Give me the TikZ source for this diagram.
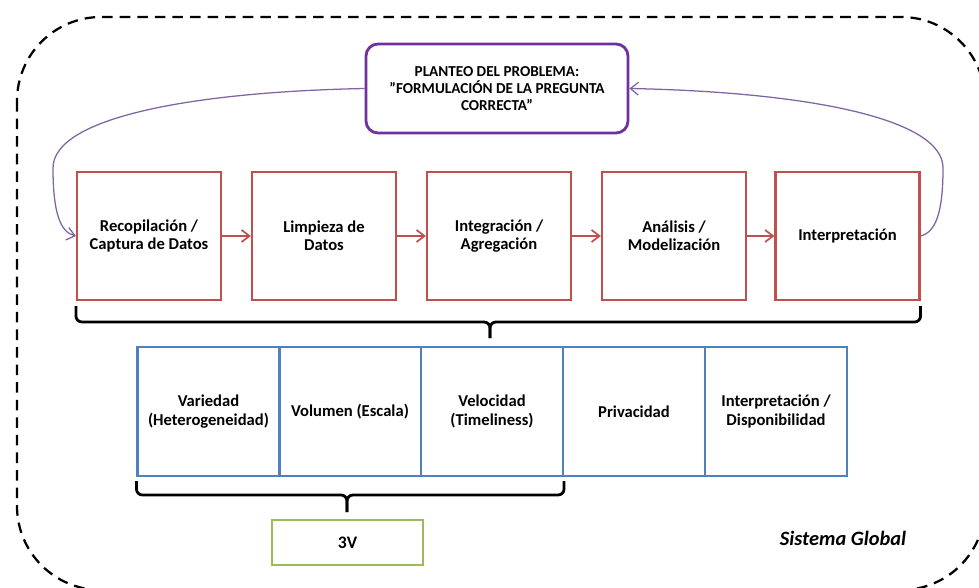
\documentclass[tikz,border=0pt]{standalone}
\usepackage{fontspec}
\setmainfont{Carlito}
\usepackage{tikz}
\usetikzlibrary{arrows.meta,calc}
\definecolor{rojo}{HTML}{C0504D}
\definecolor{azul}{HTML}{4F81BD}
\definecolor{verde}{HTML}{9BBB59}
\definecolor{morado}{HTML}{7030A0}
\definecolor{lila}{HTML}{8064A2}

\begin{document}
\begin{tikzpicture}[x=0.25mm,y=-0.25mm,
  paso/.style={draw=rojo,line width=1.5pt,minimum width=36mm,minimum height=32mm,
    align=center,font=\bfseries\fontsize{11.8}{13}\selectfont},
  rasgo/.style={draw=azul,line width=1.5pt,minimum width=35.5mm,minimum height=32.25mm,
    align=center,font=\bfseries\fontsize{11.8}{13}\selectfont},
  flecha/.style={draw=rojo,line width=1.2pt,-{Straight Barb[length=2mm,width=3mm]}},
  lazo/.style={draw=lila,line width=0.9pt,-{Straight Barb[length=2mm,width=3.2mm]}},
  llave/.style={draw=black,line width=2pt,rounded corners=1.5mm}]
\useasboundingbox (0,0) rectangle (979,588);
\clip (0,0) rectangle (979,588);
% borde del sistema
\draw[line width=1.6pt,dash pattern=on 7.5pt off 5pt,rounded corners=21mm] (17,17) rectangle (985,590);
% pregunta
\node[draw=morado,line width=2pt,rounded corners=3mm,minimum width=65.5mm,minimum height=22.25mm,
  align=center,font=\bfseries\fontsize{10.8}{12.2}\selectfont] (plan) at (497,88.5)
  {PLANTEO DEL PROBLEMA:\\\symbol{34}FORMULACIÓN DE LA PREGUNTA\\CORRECTA\symbol{34}};
% etapas
\node[paso] (r1) at (149,236) {Recopilación /\\Captura de Datos};
\node[paso] (r2) at (324,236) {Limpieza de\\Datos};
\node[paso] (r3) at (499,236) {Integración /\\Agregación};
\node[paso] (r4) at (674,236) {Análisis /\\Modelización};
\node[paso] (r5) at (847.5,236) {Interpretación};
\draw[flecha] (r1) -- (r2);
\draw[flecha] (r2) -- (r3);
\draw[flecha] (r3) -- (r4);
\draw[flecha] (r4) -- (r5);
\draw[lazo] (plan.west) .. controls (190,92) and (53,118) .. (53,168)
  .. controls (53,212) and (60,232) .. (r1.west);
\draw[lazo] (r5.east) .. controls (936,232) and (943,212) .. (943,168)
  .. controls (943,118) and (805,92) .. (plan.east);
% llave de etapas
\coordinate (t1) at (490,338);
\draw[llave] ($(r1.south west)+(0,5)$) |- (490,322) -- (t1);
\draw[llave] ($(r5.south east)+(0,5)$) |- (490,322) -- (t1);
% retos
\node[rasgo] (v1) at (208.5,411.5) {Variedad\\(Heterogeneidad)};
\node[rasgo] (v2) at (350,411.5) {Volumen (Escala)};
\node[rasgo] (v3) at (492,411.5) {Velocidad\\(Timeliness)};
\node[rasgo] (v4) at (634,411.5) {Privacidad};
\node[rasgo] (v5) at (776,411.5) {Interpretación /\\Disponibilidad};
% llave de las 3V
\coordinate (t2) at (347,512);
\draw[llave] ($(v1.south west)+(0,4)$) |- (347,495) -- (t2);
\draw[llave] ($(v3.south east)+(0,4)$) |- (347,495) -- (t2);
\node[draw=verde,line width=1.5pt,minimum width=37.75mm,minimum height=11.25mm,
  font=\bfseries\fontsize{12.5}{14}\selectfont] (tresv) at (347.5,542.5) {3V};
\node[font=\bfseries\itshape\fontsize{14.5}{16}\selectfont] (glob) at (843,538) {Sistema Global};
\end{tikzpicture}
\end{document}
